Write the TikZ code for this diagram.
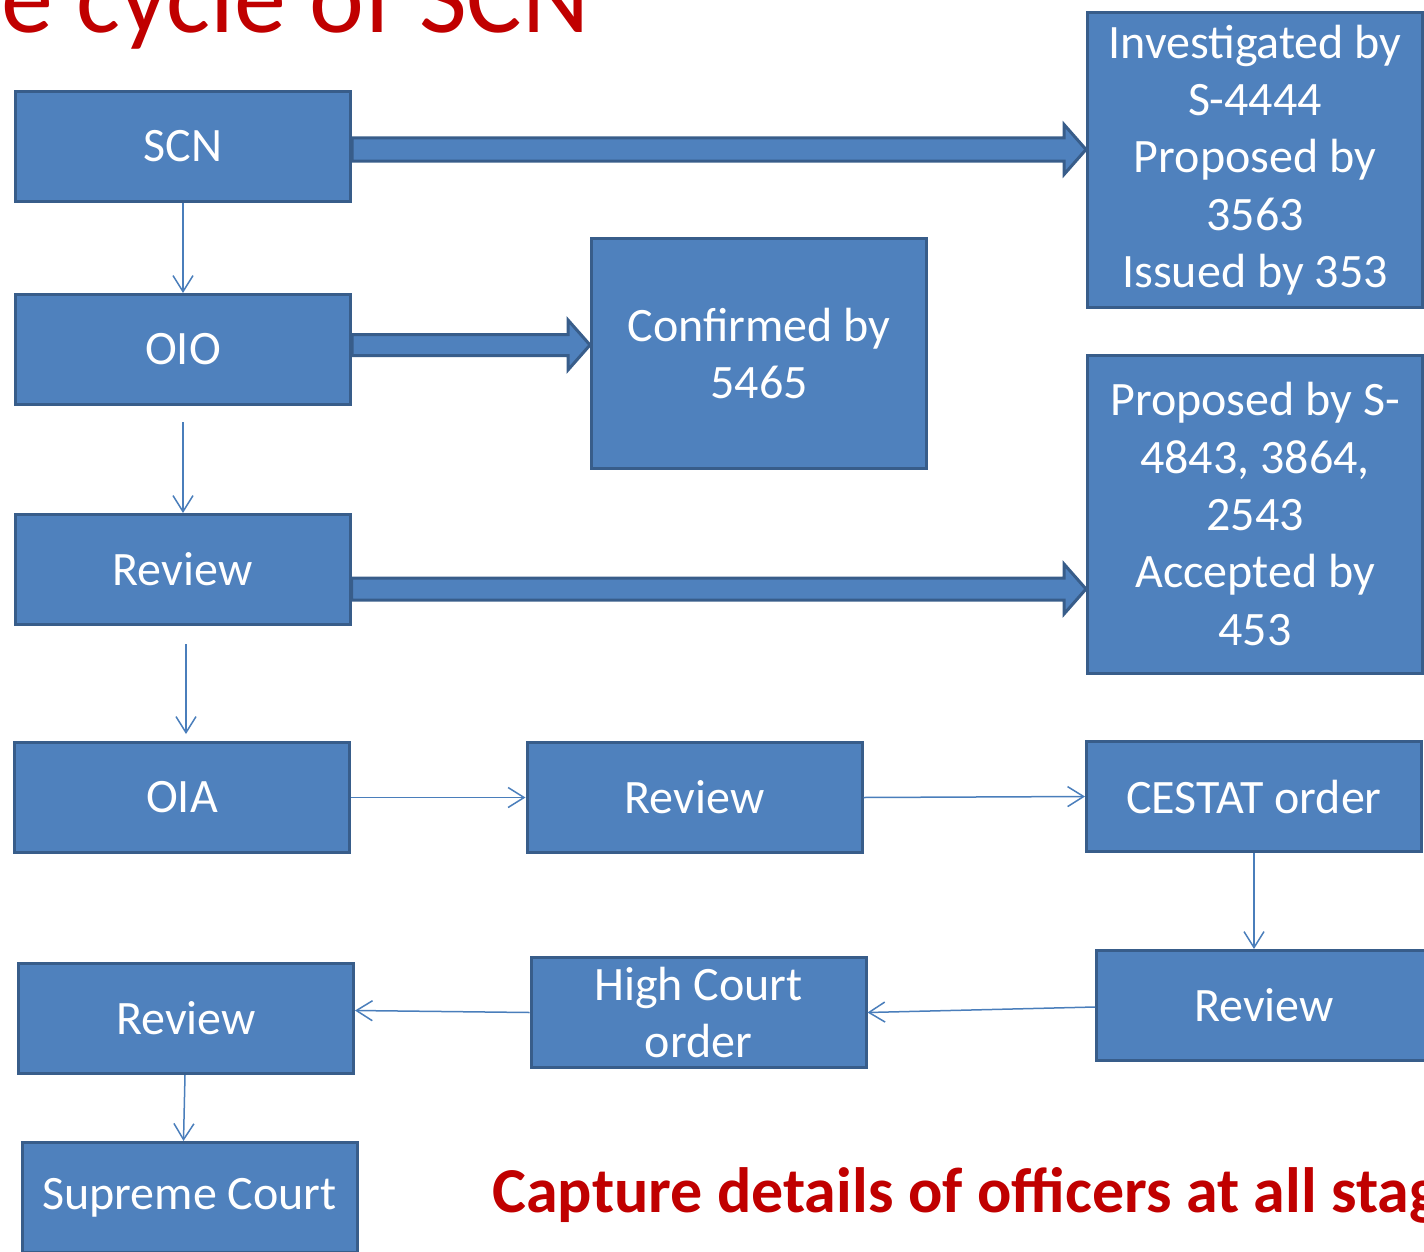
\documentclass[tikz,border=0pt]{standalone}
\usepackage{fontspec}
\setmainfont{Carlito}
\usetikzlibrary{arrows.meta,calc}
\definecolor{boxfill}{HTML}{4F81BD}
\definecolor{boxline}{HTML}{385D8A}
\definecolor{thinline}{HTML}{4A7EBB}
\definecolor{titlered}{HTML}{C00000}
\begin{document}
\begin{tikzpicture}[x=0.5pt,y=-0.5pt,
 box/.style={draw=boxline, fill=boxfill, line width=1.5pt, text=white,
   font=\fontsize{24}{28.65}\selectfont, align=center,
   minimum width=167.5pt, minimum height=55pt, inner sep=0pt},
 flow/.style={draw=thinline, line width=0.75pt, -{Straight Barb[length=8pt,width=10pt]}},
 bigarrow/.style={draw=boxline, fill=boxfill, line width=1.5pt, line join=miter},
 redtext/.style={text=titlered, inner sep=0pt}]
\clip (0,0) rectangle (1424,1252);

\node[redtext, anchor=base east, font=\fontsize{52}{60}\selectfont] (title) at (590,33) {e cycle of SCN};

\node[box] (scn) at (183,146.5) {SCN};
\node[box] (oio) at (183,349.5) {OIO};
\node[box] (rev1) at (182.5,569.5) {Review};
\node[box] (oia) at (182,797.5) {OIA};
\node[box] (rev4) at (186,1018.5) {Review};
\node[box] (sc) at (189.5,1197.5) {\raisebox{-4pt}{Supreme Court}};
\node[box, minimum height=115pt] (conf) at (759,353.5) {Confirmed by\\5465};
\node[box, minimum height=147.5pt] (inv) at (1255,160) {Investigated by\\S-4444\\Proposed by\\3563\\Issued by 353};
\node[box, minimum height=159pt] (prop) at (1255,514) {Proposed by S-\\4843, 3864,\\2543\\Accepted by\\453};
\node[box] (rev2) at (694.5,797.5) {Review};
\node[box] (cestat) at (1254,796.5) {CESTAT order};
\node[box] (hc) at (698.5,1012.5) {High Court\\order};
\node[box] (rev3) at (1264,1005.5) {Review};

% thick block arrows
\draw[bigarrow] let \p1=($(scn.east)+(0,3)$), \p2=(inv.west) in
  (\x1,\y1+5.75pt) -- (\x2-11pt,\y1+5.75pt) -- (\x2-11pt,\y1+12.5pt) -- (\x2,\y1)
  -- (\x2-11pt,\y1-12.5pt) -- (\x2-11pt,\y1-5.75pt) -- (\x1,\y1-5.75pt) -- cycle;
\draw[bigarrow] let \p1=($(oio.east)+(0,-4.5)$), \p2=(conf.west) in
  (\x1,\y1+5.25pt) -- (\x2-11pt,\y1+5.25pt) -- (\x2-11pt,\y1+12.5pt) -- (\x2,\y1)
  -- (\x2-11pt,\y1-12.5pt) -- (\x2-11pt,\y1-5.25pt) -- (\x1,\y1-5.25pt) -- cycle;
\draw[bigarrow] let \p1=($(rev1.east)+(0,19.5)$), \p2=(prop.west) in
  (\x1,\y1+5.5pt) -- (\x2-11pt,\y1+5.5pt) -- (\x2-11pt,\y1+12.5pt) -- (\x2,\y1)
  -- (\x2-11pt,\y1-12.5pt) -- (\x2-11pt,\y1-5.5pt) -- (\x1,\y1-5.5pt) -- cycle;

% thin connectors
\coordinate (r1s) at ($(rev1.south)+(3.5,18)$);
\coordinate (oiat) at ($(r1s |- oia.north)+(0,-7)$);
\coordinate (oios) at ($(oio.south)+(0,16)$);
\draw[flow] (scn.south) -- (oio.north);
\draw[flow] (oios) -- (oios |- rev1.north);
\draw[flow] (r1s) -- (oiat);
\draw[flow] (oia.east) -- (rev2.west);
\draw[flow] (rev2.east) -- (cestat.west);
\draw[flow] (cestat.south) -- (cestat.south |- rev3.north);
\draw[flow] ($(rev3.west)+(0,1.5)$) -- (hc.east);
\draw[flow] (hc.west) -- ($(rev4.east)+(0,-8)$);
\draw[flow] ($(rev4.south)+(-1,0)$) -- ($(sc.north)+(-6,0)$);

\node[redtext, anchor=base west, font=\bfseries\fontsize{32}{40}\selectfont] (note) at (492,1212) {Capture details of officers at all stages};
\end{tikzpicture}
\end{document}
